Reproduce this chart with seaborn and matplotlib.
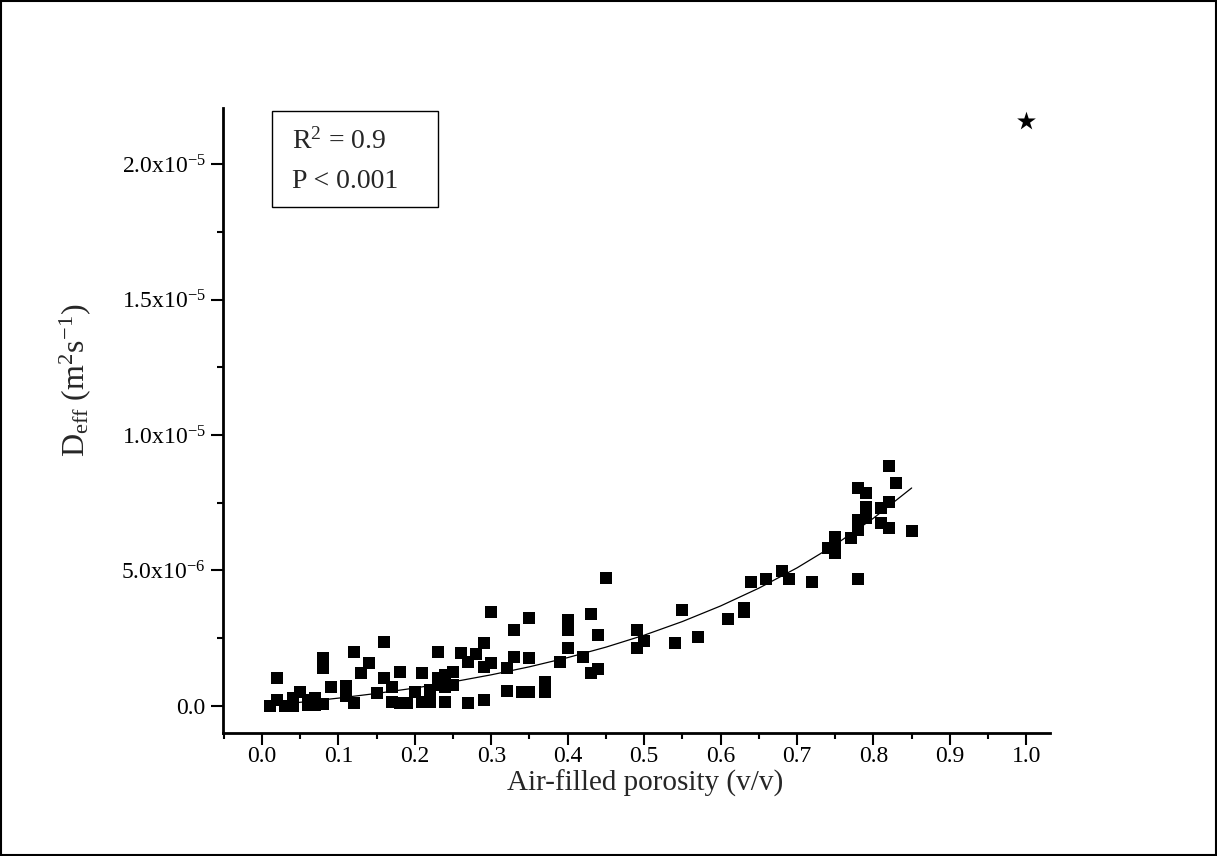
import matplotlib
matplotlib.use("Agg")
import matplotlib.pyplot as plt
from matplotlib.patches import Rectangle
from matplotlib.ticker import MultipleLocator, FixedLocator, FixedFormatter
import seaborn as sns
import pandas as pd

# ---- data (y in units of 1e-6 m^2 s^-1) ----
porosity = [0.01, 0.02, 0.02, 0.03, 0.04, 0.04, 0.05, 0.06, 0.06, 0.07, 0.07,
            0.08, 0.08, 0.08, 0.09, 0.11, 0.11, 0.12, 0.12, 0.13, 0.14, 0.15,
            0.16, 0.16, 0.17, 0.17, 0.18, 0.18, 0.19, 0.20, 0.21, 0.21, 0.22,
            0.22, 0.23, 0.23, 0.23, 0.24, 0.24, 0.24, 0.25, 0.25, 0.26, 0.27,
            0.27, 0.28, 0.29, 0.29, 0.29, 0.30, 0.30, 0.32, 0.32, 0.33, 0.33,
            0.34, 0.35, 0.35, 0.35, 0.37, 0.37, 0.39, 0.40, 0.40, 0.40, 0.42,
            0.43, 0.43, 0.44, 0.44, 0.45, 0.49, 0.49, 0.50, 0.54, 0.55, 0.57,
            0.61, 0.63, 0.63, 0.64, 0.66, 0.68, 0.69, 0.72, 0.74, 0.75, 0.75,
            0.75, 0.77, 0.78, 0.78, 0.78, 0.78, 0.79, 0.79, 0.79, 0.81, 0.81,
            0.82, 0.82, 0.82, 0.83, 0.85]
deff = [0.00, 0.20, 1.03, 0.00, 0.30, 0.00, 0.50, 0.20, 0.05, 0.30, 0.05,
        1.75, 1.40, 0.07, 0.70, 0.75, 0.35, 2.00, 0.10, 1.22, 1.59, 0.48,
        2.36, 1.03, 0.70, 0.15, 1.25, 0.10, 0.10, 0.52, 1.22, 0.15, 0.59,
        0.15, 2.00, 1.03, 0.77, 1.14, 0.70, 0.15, 1.25, 0.77, 1.96, 1.62,
        0.10, 1.92, 2.33, 1.44, 0.22, 3.47, 1.59, 1.40, 0.55, 2.80, 1.81,
        0.52, 3.25, 1.77, 0.52, 0.89, 0.52, 1.62, 3.17, 2.80, 2.14, 1.81,
        3.40, 1.22, 2.62, 1.37, 4.72, 2.80, 2.14, 2.40, 2.33, 3.54, 2.55,
        3.21, 3.62, 3.45, 4.58, 4.69, 4.98, 4.69, 4.58, 5.83, 6.24, 5.90,
        5.65, 6.20, 8.04, 6.86, 6.49, 4.69, 7.86, 7.34, 6.94, 7.30, 6.75,
        8.86, 7.53, 6.57, 8.23, 6.46]

# fitted curve
fit_x = [0.01, 0.05, 0.10, 0.15, 0.20, 0.25, 0.30, 0.35, 0.40, 0.45,
         0.50, 0.55, 0.60, 0.65, 0.70, 0.75, 0.80, 0.85]
fit_y = [0.025, 0.134, 0.287, 0.461, 0.660, 0.888, 1.148, 1.444, 1.783, 2.169,
         2.610, 3.114, 3.689, 4.345, 5.095, 5.951, 6.928, 8.044]

star_x = [1.0]
star_y = [21.6]

x_ticks = [0.0, 0.1, 0.2, 0.3, 0.4, 0.5, 0.6, 0.7, 0.8, 0.9, 1.0]
y_ticks = [0.0, 5.0e-6, 1.0e-5, 1.5e-5, 2.0e-5]
y_tick_labels = ["0.0", r"5.0x10$^{-6}$", r"1.0x10$^{-5}$",
                 r"1.5x10$^{-5}$", r"2.0x10$^{-5}$"]

SCALE = 1e-6
df = pd.DataFrame({"x": porosity, "y": [v * SCALE for v in deff]})
fit_df = pd.DataFrame({"x": fit_x, "y": [v * SCALE for v in fit_y]})
star_df = pd.DataFrame({"x": star_x, "y": [v * SCALE for v in star_y]})

sns.set_style("white")
plt.rcParams["font.family"] = ["Liberation Serif", "DejaVu Serif"]
plt.rcParams["mathtext.fontset"] = "custom"
plt.rcParams["mathtext.rm"] = "Liberation Serif"
plt.rcParams["mathtext.it"] = "Liberation Serif:italic"
plt.rcParams["mathtext.bf"] = "Liberation Serif:bold"

fig = plt.figure(figsize=(12.17, 8.56), dpi=100)
ax = fig.add_axes([223 / 1217, 1 - 733 / 856, (1050 - 223) / 1217, (733 - 108) / 856])

sns.lineplot(data=fit_df, x="x", y="y", ax=ax, color="black", linewidth=0.9)
sns.scatterplot(data=df, x="x", y="y", ax=ax, marker="s", color="black",
                s=78, linewidth=0, edgecolor="black")
sns.scatterplot(data=star_df, x="x", y="y", ax=ax, marker="*", color="black",
                s=200, linewidth=0)

ax.set_xlim(-0.051, 1.031)
ax.set_ylim(-1.0e-6, 22.07e-6)
ax.set_xlabel("")
ax.set_ylabel("")

ax.xaxis.set_major_locator(FixedLocator(x_ticks))
ax.set_xticklabels([f"{t:.1f}" for t in x_ticks])
ax.xaxis.set_minor_locator(MultipleLocator(0.05))
ax.yaxis.set_major_locator(FixedLocator(y_ticks))
ax.yaxis.set_major_formatter(FixedFormatter(y_tick_labels))
ax.yaxis.set_minor_locator(MultipleLocator(2.5e-6))

for side in ["top", "right"]:
    ax.spines[side].set_visible(False)
for side in ["left", "bottom"]:
    ax.spines[side].set_linewidth(2.0)
    ax.spines[side].set_color("black")

ax.tick_params(which="major", direction="out", length=8.5, width=1.5,
               labelsize=17, colors="black", left=True, bottom=True)
ax.tick_params(axis="x", which="major", pad=1)
ax.tick_params(axis="y", which="major", pad=4)
ax.tick_params(which="minor", direction="out", length=4.3, width=1.5,
               colors="black", left=True, bottom=True)

# axis titles
fig.text(645 / 1217, 1 - 783 / 856, "Air-filled porosity (v/v)",
         ha="center", va="center", fontsize=21)
fig.text(75 / 1217, 1 - 380 / 856,
         r"D$_{\mathrm{eff}}$ (m$^{2}$s$^{-1}$)",
         ha="center", va="center", rotation=90, fontsize=23)

# statistics box
fig.patches.append(Rectangle((272 / 1217, 1 - 207 / 856), (438 - 272) / 1217,
                             (207 - 111) / 856, fill=False, lw=1.0,
                             edgecolor="black", transform=fig.transFigure))
fig.text(292 / 1217, 1 - 141 / 856, r"R$^{2}$ = 0.9", ha="left", va="center",
         fontsize=20)
fig.text(292 / 1217, 1 - 181 / 856, "P < 0.001", ha="left", va="center",
         fontsize=20)

# outer frame
fig.patches.append(Rectangle((0.0012, 0.0012), 0.9976, 0.9976, fill=False,
                             lw=1.5, edgecolor="black",
                             transform=fig.transFigure))

fig.savefig("out.png", dpi=100)
